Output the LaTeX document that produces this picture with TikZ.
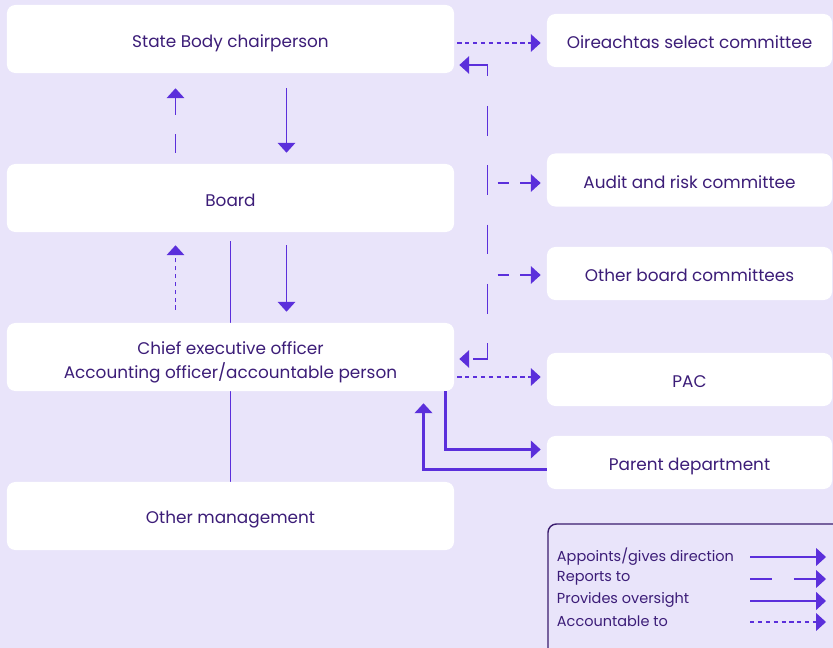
\documentclass[tikz,border=0pt]{standalone}
\usepackage{fontspec}
\setmainfont{Poppins}
\usepackage{xcolor}
\usepackage{tikz}
\usetikzlibrary{arrows.meta, calc, backgrounds}
\definecolor{bgLavender}{HTML}{E9E4FA}
\definecolor{linkPurple}{HTML}{5B2FDB}
\definecolor{textPurple}{HTML}{3C1D78}
\definecolor{legendBorder}{HTML}{3A1C6E}
% even line height in the boxes
\newcommand{\boxstrut}{\rule[-2.8pt]{0pt}{17.4pt}}

\begin{document}
\begin{tikzpicture}[
    x=0.025cm, y=-0.025cm,
    font=\fontsize{12}{17}\selectfont,
    box/.style={rectangle, rounded corners=6pt, fill=white, draw=none,
                minimum width=11.175cm, minimum height=1.7cm,
                text=textPurple, align=center,
                execute at begin node=\boxstrut, execute at end node=\boxstrut},
    sidebox/.style={box, minimum width=7.125cm, minimum height=1.325cm},
    link/.style={linkPurple, line width=1pt, -{Triangle[length=7pt, width=12.5pt]}},
    appoints/.style={link},
    reports/.style={link, dash pattern=on #1 off #1},
    oversight/.style={link, line width=1.5pt},
    accountable/.style={link, dash pattern=on 3pt off 2.6pt},
    legendtext/.style={anchor=west, text=textPurple, font=\fontsize{10.3}{12}\selectfont},
]

% ── Canvas ──
\useasboundingbox (0,0) rectangle (833,648);
\begin{scope}[on background layer]
\fill[bgLavender] (0,0) rectangle (833,648);
\end{scope}

% ── Left column ──
\node[box] (chair) at (230.5,39) {State Body chairperson};
\node[box] (board) at (230.5,198) {Board};
\node[box] (ceo) at (230.5,357) {\rule{0pt}{17pt}Chief executive officer\\Accounting officer/accountable person};
\node[box] (other) at (230.5,516) {Other management};

% ── Right column ──
\node[sidebox] (oire) at (689.5,40.5) {Oireachtas select committee};
\node[sidebox] (audit) at (689.5,180) {Audit and risk committee};
\node[sidebox] (committees) at (689.5,273.5) {Other board committees};
\node[sidebox] (pac) at (689.5,379.5) {PAC};
\node[sidebox] (parent) at (689.5,462.5) {Parent department};

% ── Board to other management (behind CEO) ──
\begin{scope}[on background layer]
\draw[linkPurple, line width=1pt] ($(board.south)+(0,9)$) -- (other.north);
\end{scope}

% ── Chair / Board / CEO ──
\draw[appoints] ($(chair.south)+(56,15)$) -- ($(board.north)+(56,-11)$);
\draw[reports=13.5pt] ($(board.north)+(-55,-11)$) -- ($(chair.south)+(-55,15)$);
\draw[appoints] ($(board.south)+(56,13)$) -- ($(ceo.north)+(56,-11)$);
\draw[accountable] ($(ceo.north)+(-55,-13)$) -- ($(board.south)+(-55,13)$);

% ── Committees reporting line ──
\draw[reports=21.1pt, {Triangle[length=7pt, width=12.5pt]}-{Triangle[length=7pt, width=12.5pt]}]
    ($(chair.east)+(5,26)$) -| ($(ceo.east)+(33,2)$) -- ($(ceo.east)+(5,2)$);
\draw[reports=8pt] ($(audit.west)+(-49,3)$) -- ($(audit.west)+(-6,3)$);
\draw[reports=8pt] ($(committees.west)+(-49,1.5)$) -- ($(committees.west)+(-6,1.5)$);

% ── Accountable to ──
\draw[accountable] ($(chair.east |- oire.west)+(3,2.5)$) -- ($(oire.west)+(-6,2.5)$);
\draw[accountable] ($(ceo.east)+(3,20)$) coordinate (pacfrom) -- ($(pac.west |- pacfrom)+(-6,0)$);

% ── Parent department ──
\draw[oversight] ($(ceo.south)+(215,0)$) |- ($(parent.west)+(-6,-13)$);
\draw[oversight] ($(parent.west)+(0,7)$) -| ($(ceo.south)+(193,12)$);

% ── Legend ──
\draw[legendBorder, line width=1pt, rounded corners=6pt] (548,524) rectangle (845,660);
\node[legendtext] (lgA) at (552,557) {Appoints/gives direction};
\node[legendtext] (lgR) at (552,578) {Reports to};
\node[legendtext] (lgO) at (552,600) {Provides oversight};
\node[legendtext] (lgC) at (552,621) {Accountable to};
\coordinate (lgAa) at (750,557); \coordinate (lgAb) at (826,557);
\coordinate (lgRa) at (750,579); \coordinate (lgRb) at (826,579);
\coordinate (lgOa) at (750,601); \coordinate (lgOb) at (826,601);
\coordinate (lgCa) at (750,622); \coordinate (lgCb) at (826,622);
\draw[appoints] (lgAa) -- (lgAb);
\draw[reports=15.6pt] (lgRa) -- (lgRb);
\draw[oversight] (lgOa) -- (lgOb);
\draw[accountable] (lgCa) -- (lgCb);

\end{tikzpicture}
\end{document}
